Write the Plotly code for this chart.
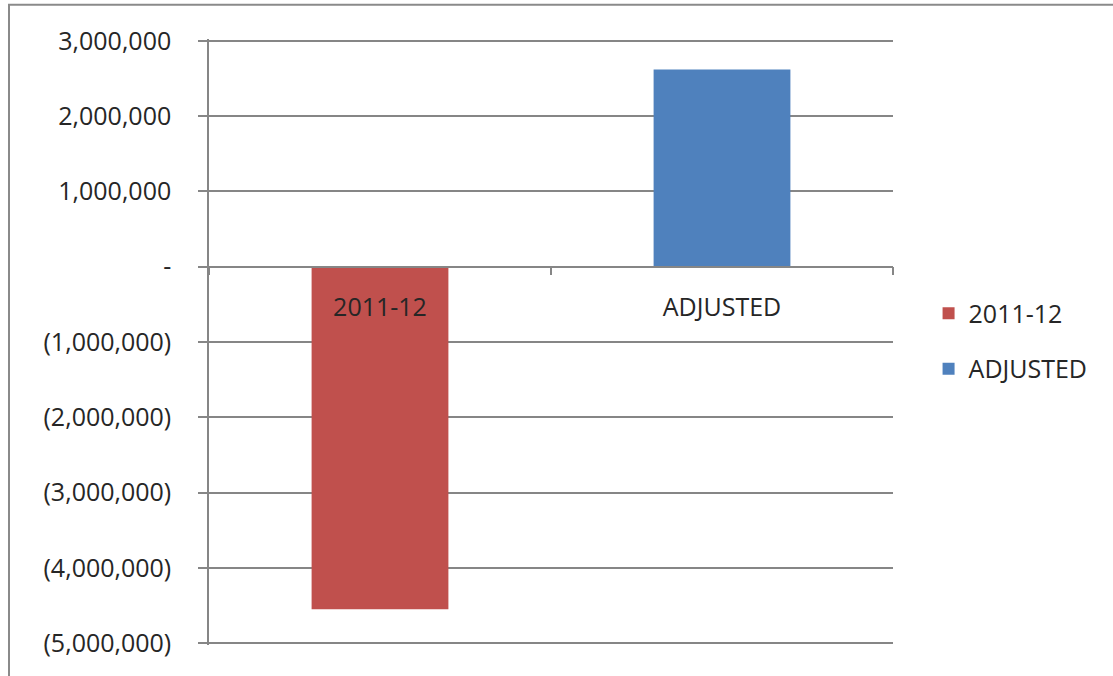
import plotly.graph_objects as go

categories = ["2011-12", "ADJUSTED"]
series_names = ["2011-12", "ADJUSTED"]
values_2011_12 = [-4550000, None]
values_adjusted = [None, 2620000]
colors = ["#C0504D", "#4F81BD"]
y_tickvals = [3000000, 2000000, 1000000, 0, -1000000, -2000000, -3000000, -4000000, -5000000]
y_ticktext = ["3,000,000", "2,000,000", "1,000,000", "-", "(1,000,000)", "(2,000,000)",
              "(3,000,000)", "(4,000,000)", "(5,000,000)"]

FONT = "Open Sans"
TXT = "#262626"
GRID = "#868686"
FS = 25
Y_RANGE = [-5025000, 3025000]

fig = go.Figure()
for name, vals, col in zip(series_names, [values_2011_12, values_adjusted], colors):
    fig.add_trace(go.Bar(x=categories, y=vals, name=name, marker_color=col,
                         marker_line_width=0, width=0.4, legendgroup=name))

fig.update_layout(
    width=1113, height=676,
    margin=dict(l=209, r=220, t=39, b=31),
    paper_bgcolor="white", plot_bgcolor="white",
    barmode="overlay",
    font=dict(family=FONT, size=FS, color=TXT),
    showlegend=True,
    legend=dict(x=1.052, y=0.585, xanchor="left", yanchor="top",
                font=dict(family=FONT, size=FS, color=TXT),
                tracegroupgap=20, bgcolor="rgba(0,0,0,0)"),
    xaxis=dict(type="category", anchor="free",
               position=(0 - Y_RANGE[0]) / (Y_RANGE[1] - Y_RANGE[0]),
               showline=True, linecolor=GRID, linewidth=1.5,
               ticks="outside", ticklen=8, tickcolor=GRID, tickwidth=1.5,
               tickson="boundaries", showgrid=False, zeroline=False,
               ticklabelstandoff=19, layer="above traces",
               tickfont=dict(family=FONT, size=FS, color=TXT)),
    yaxis=dict(range=Y_RANGE, tickvals=y_tickvals, ticktext=y_ticktext,
               showline=True, linecolor=GRID, linewidth=1.5,
               ticks="outside", ticklen=9, tickcolor=GRID, tickwidth=1.5,
               showgrid=True, gridcolor=GRID, gridwidth=1.5, zeroline=False,
               ticklabelstandoff=22,
               tickfont=dict(family=FONT, size=FS, color=TXT)),
)

# outer chart frame
fig.add_shape(type="rect", xref="paper", yref="paper",
              x0=-0.2924, x1=1.6, y0=-0.2, y1=1.0565,
              line=dict(color="#8A8A8A", width=2), fillcolor="rgba(0,0,0,0)", layer="below")

fig.write_html("out.html")
